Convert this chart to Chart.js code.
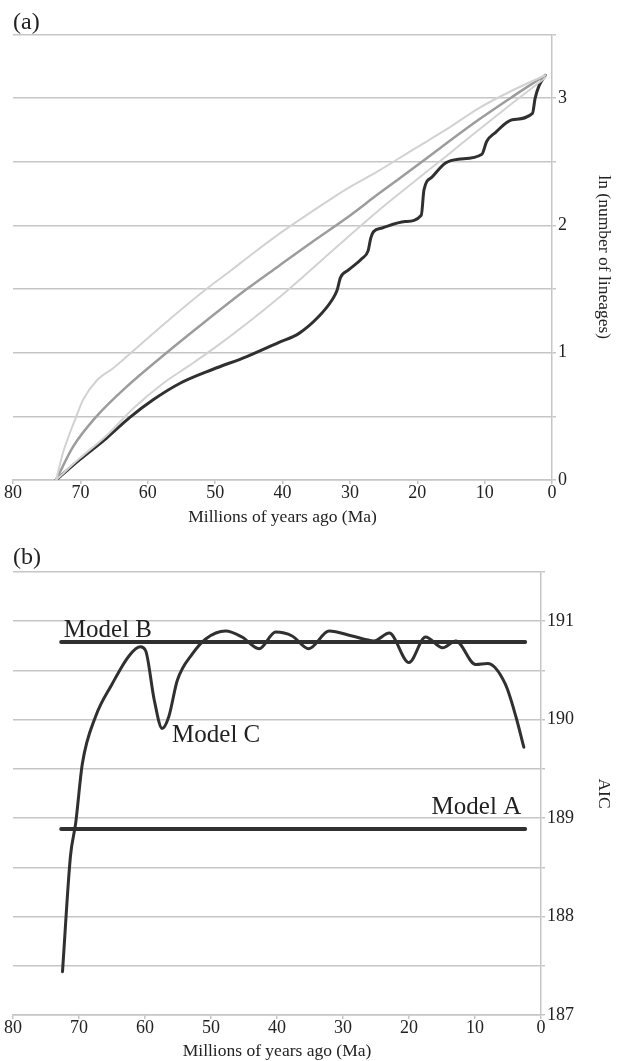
<!DOCTYPE html>
<html>
<head>
<meta charset="utf-8">
<script src="https://cdn.jsdelivr.net/npm/chart.js@4"></script>
<style>
  html, body { margin: 0; padding: 0; background: #fff; }
  .panel { position: relative; width: 618px; }
  #panelA { height: 530px; }
  #panelB { height: 531px; }
</style>
</head>
<body>
<div class="panel" id="panelA"><canvas id="lineageChart"></canvas></div>
<div class="panel" id="panelB"><canvas id="aicChart"></canvas></div>
<script>
// (a) lineages through time, ln(number of lineages) vs Ma
const observedAges = [73.6, 70.1, 66.1, 62.7, 59.2, 55.2, 50.3, 45.3, 40.6, 37.6, 34.7, 32.7, 31.9, 31.4, 30.2, 28.2, 27.3, 26.9, 26.5, 25.2, 21.8, 19.4, 19.0, 17.8, 15.8, 13.9, 10.4, 9.7, 8.4, 5.9, 2.9, 2.5, 1.9, 1.0];
const observedLn   = [0, 0.16, 0.33, 0.49, 0.63, 0.76, 0.87, 0.97, 1.08, 1.15, 1.28, 1.41, 1.49, 1.59, 1.65, 1.74, 1.80, 1.90, 1.95, 1.98, 2.03, 2.08, 2.28, 2.38, 2.49, 2.52, 2.56, 2.66, 2.73, 2.83, 2.88, 3.00, 3.10, 3.18];

const meanAges = [73.6, 71.1, 67.6, 63.2, 57.2, 52.3, 45.3, 40.6, 35.6, 30.7, 25.7, 19.8, 15.8, 10.9, 5.9, 1.0];
const meanLn   = [0, 0.26, 0.50, 0.73, 1.00, 1.21, 1.50, 1.68, 1.87, 2.05, 2.25, 2.48, 2.64, 2.83, 3.01, 3.18];

const upperAges = [73.6, 72.6, 70.6, 69.6, 67.6, 65.1, 62.9, 57.7, 51.3, 47.8, 44.4, 40.6, 35.6, 30.7, 25.7, 20.8, 15.8, 10.9, 5.9, 1.0];
const upperLn   = [0, 0.21, 0.50, 0.63, 0.78, 0.88, 0.98, 1.22, 1.50, 1.64, 1.78, 1.93, 2.11, 2.28, 2.43, 2.59, 2.75, 2.92, 3.06, 3.18];

const lowerAges = [73.6, 70.1, 66.1, 62.2, 57.7, 53.8, 50.3, 45.3, 40.6, 35.6, 30.7, 25.7, 20.8, 15.8, 10.9, 5.9, 1.0];
const lowerLn   = [0, 0.17, 0.35, 0.56, 0.76, 0.90, 1.03, 1.23, 1.43, 1.66, 1.89, 2.12, 2.33, 2.54, 2.75, 2.96, 3.16];

// (b) AIC vs Ma
const modelCAges = [72.5, 71.3, 70.5, 69.5, 67.5, 65.0, 62.4, 60.7, 59.9, 58.6, 57.4, 56.4, 55.1, 52.8, 50.8, 47.8, 45.3, 42.7, 40.2, 37.7, 35.2, 32.1, 28.6, 25.3, 23.0, 20.0, 17.5, 14.9, 12.9, 9.9, 8.1, 5.4, 3.8, 2.6];
const modelCAic  = [187.44, 188.61, 188.95, 189.55, 190.03, 190.36, 190.65, 190.74, 190.70, 190.20, 189.91, 190.03, 190.40, 190.67, 190.82, 190.90, 190.84, 190.72, 190.89, 190.85, 190.72, 190.90, 190.85, 190.80, 190.88, 190.58, 190.84, 190.73, 190.80, 190.56, 190.57, 190.36, 190.03, 189.72];
const modelSpan = [72.7, 2.4];
const modelAAic = 188.89;
const modelBAic = 190.79;

const xTicks = { min: 0, max: 80, step: 10 };

const serif = "'Liberation Serif', 'Times New Roman', serif";
Chart.defaults.font.family = serif;
Chart.defaults.color = '#222';
Chart.defaults.animation = false;

const gridGray = '#c6c6c6';

function points(ages, vals) {
    return ages.map((a, i) => ({ x: a, y: vals[i] }));
}

function xScale(h, titlePad) {
    return {
        type: 'linear', min: xTicks.min, max: xTicks.max, reverse: true,
        afterFit: s => { s.height = h; },
        grid: { drawOnChartArea: false, tickLength: 4, color: gridGray, lineWidth: 1.5 },
        border: { color: gridGray, width: 1.5 },
        ticks: { stepSize: xTicks.step, padding: 0, maxRotation: 0, font: { size: 18, lineHeight: 1 } },
        title: { display: true, text: 'Millions of years ago (Ma)', font: { size: 17.5, lineHeight: 1 }, padding: { top: 0, bottom: titlePad } }
    };
}

function yScale(min, max, w, title) {
    return {
        position: 'right', min: min, max: max,
        afterFit: s => { s.width = w; },
        grid: { color: gridGray, lineWidth: 1.5, tickLength: 4 },
        border: { color: gridGray, width: 1.5 },
        ticks: { stepSize: 0.5, autoSkip: false, padding: 2, font: { size: 18, lineHeight: 1 },
                 callback: v => Number.isInteger(v) ? v : '' },
        title: { display: true, text: title, font: { size: 17.5, lineHeight: 1 }, padding: 0 }
    };
}

function line(data, color, width) {
    return { data: data, borderColor: color, borderWidth: width, pointRadius: 0,
             cubicInterpolationMode: 'monotone', borderCapStyle: 'round', borderJoinStyle: 'round' };
}

// panel (a)
new Chart(document.getElementById('lineageChart'), {
    type: 'line',
    data: {
        datasets: [
            line(points(upperAges, upperLn), '#d2d2d2', 2),
            line(points(lowerAges, lowerLn), '#d2d2d2', 2),
            line(points(meanAges, meanLn), '#9c9c9c', 2.5),
            line(points(observedAges, observedLn), '#303030', 3)
        ]
    },
    options: {
        responsive: true,
        maintainAspectRatio: false,
        layout: { padding: { left: 13, right: 6, top: 0, bottom: 0 } },
        scales: { x: xScale(50, 3.5), y: yScale(0, 3.5, 60, 'ln (number of lineages)') },
        plugins: {
            legend: { display: false },
            tooltip: { enabled: false },
            title: { display: true, text: '(a)', align: 'start', color: '#222',
                     font: { size: 24, weight: 'normal', lineHeight: 1 }, padding: { top: 10.5, bottom: 0 } }
        }
    }
});

// text beside the model lines in panel (b)
const modelLabels = [
    { text: 'Model B', x: 72.3, y: 190.84, align: 'left' },
    { text: 'Model C', x: 55.9, y: 189.77, align: 'left' },
    { text: 'Model A', x: 3.0, y: 189.04, align: 'right' }
];

const modelLabelPlugin = {
    id: 'modelLabels',
    afterDatasetsDraw(chart) {
        const { ctx, scales: { x, y } } = chart;
        ctx.save();
        ctx.font = '25px ' + serif;
        ctx.fillStyle = '#222';
        ctx.textBaseline = 'alphabetic';
        modelLabels.forEach(l => {
            ctx.textAlign = l.align;
            ctx.fillText(l.text, x.getPixelForValue(l.x), y.getPixelForValue(l.y));
        });
        ctx.restore();
    }
};

// panel (b)
new Chart(document.getElementById('aicChart'), {
    type: 'line',
    data: {
        datasets: [
            line(points(modelSpan, [modelBAic, modelBAic]), '#303030', 4),
            line(points(modelSpan, [modelAAic, modelAAic]), '#303030', 4),
            line(points(modelCAges, modelCAic), '#303030', 3)
        ]
    },
    options: {
        responsive: true,
        maintainAspectRatio: false,
        layout: { padding: { left: 13, right: 6, top: 0, bottom: 0 } },
        scales: { x: xScale(46, 0.5), y: yScale(187, 191.5, 71, 'AIC') },
        plugins: {
            legend: { display: false },
            tooltip: { enabled: false },
            title: { display: true, text: '(b)', align: 'start', color: '#222',
                     font: { size: 24, weight: 'normal', lineHeight: 1 }, padding: { top: 16, bottom: 2 } }
        }
    },
    plugins: [modelLabelPlugin]
});
</script>
</body>
</html>
